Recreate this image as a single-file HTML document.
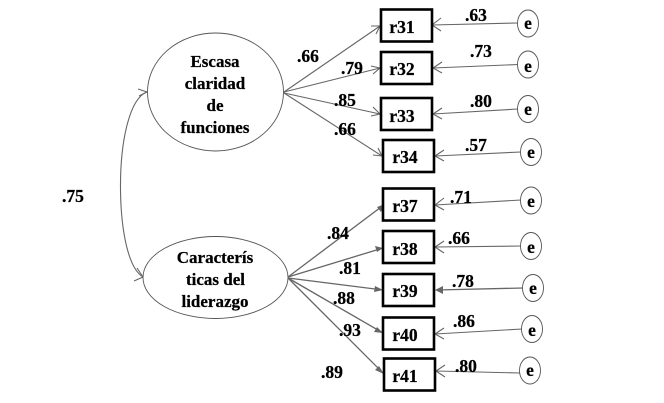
<!DOCTYPE html>
<html>
<head>
<meta charset="utf-8">
<style>
html,body{margin:0;padding:0;background:#fff;}
svg{display:block;}
text{font-family:"Liberation Serif",serif;font-weight:bold;fill:#000;stroke:#000;stroke-width:.25px;}
.t{font-size:17px;text-anchor:middle;}
.v{font-size:17.5px;}
.b{font-size:17.5px;text-anchor:middle;}
.e{font-size:17.5px;text-anchor:middle;}
.l{stroke:#666;stroke-width:1.1;fill:none;}
.d{stroke:#666;stroke-width:1.3;fill:none;}
.box{fill:#fff;stroke:#000;stroke-width:2.6;}
.c{fill:#fff;stroke:#555;stroke-width:.9;}
</style>
</head>
<body>
<svg width="664" height="403" viewBox="0 0 664 403" xmlns="http://www.w3.org/2000/svg">
<!-- correlation -->
<path class="l" d="M147 92 C130 98 120 140 120.500 190 C121 230 128 268 143 277"/>
<path class="l" d="M138 89 L147 92 L139 96"/>
<path class="l" d="M134 281 L143 277 L137 268"/>
<!-- ellipses -->
<ellipse cx="215.500" cy="92" rx="68" ry="59" class="c"/>
<ellipse cx="215.500" cy="277.500" rx="72.500" ry="41" class="c"/>
<text class="t" x="215" y="67">Escasa</text>
<text class="t" x="215" y="89">claridad</text>
<text class="t" x="215" y="111">de</text>
<text class="t" x="215" y="133">funciones</text>
<text class="t" x="215" y="263">Caracterís</text>
<text class="t" x="215.500" y="285">ticas del</text>
<text class="t" x="215" y="307">liderazgo</text>
<!-- upper paths -->
<path class="l" d="M284 92 L380 26"/><path class="l" d="M371 26 L380 26 L376 34"/>
<path class="l" d="M284 92 L380 68"/><path class="l" d="M371 66 L380 68 L373 74"/>
<path class="l" d="M284 93 L380 114"/><path class="l" d="M373 107 L380 114 L371 116"/>
<path class="l" d="M284 93 L382 156"/><path class="l" d="M378 148 L382 156 L373 155"/>
<!-- lower paths -->
<path class="d" d="M288 277 L385 204"/><path d="M385 204 L377 207 L381 212 Z" fill="#666"/>
<path class="d" d="M288 277 L383 248"/><path d="M383 248 L375 246 L377 252 Z" fill="#666"/>
<path class="d" d="M288 278 L383 290"/><path d="M383 290 L375 286 L374 292 Z" fill="#666"/>
<path class="d" d="M288 278 L383 333"/><path d="M383 333 L377 327 L374 332 Z" fill="#666"/>
<path class="d" d="M288 278 L384 374"/><path d="M384 374 L379 366 L375 370 Z" fill="#666"/>
<!-- error paths -->
<path class="l" d="M518 23 L432 25"/><path class="l" d="M441 18 L432 25 L441 31"/>
<path class="l" d="M518 64.500 L433 68"/><path class="l" d="M442 62 L433 68 L442 73"/>
<path class="l" d="M518 109 L433 114"/><path class="l" d="M442 108 L433 114 L442 119"/>
<path class="l" d="M521 152 L435 156"/><path class="l" d="M444 150 L435 156 L444 161"/>
<path class="l" d="M521 200 L435 205"/><path class="l" d="M444 198 L435 205 L444 210"/>
<path class="l" d="M521 246 L435 247"/><path class="l" d="M444 241 L435 247 L444 253"/>
<path class="d" d="M523 288 L436 290"/><path d="M435 290 L443 286 L443 294 Z" fill="#666"/>
<path class="l" d="M522 329 L435 334"/><path class="l" d="M444 328 L435 334 L444 339"/>
<path class="l" d="M520 373 L436 371"/><path class="l" d="M445 365 L436 371 L445 377"/>
<!-- boxes -->
<rect class="box" x="381" y="9.500" width="51" height="32"/>
<rect class="box" x="381" y="52" width="51" height="32"/>
<rect class="box" x="381" y="98" width="51" height="32"/>
<rect class="box" x="383" y="140" width="51" height="32"/>
<rect class="box" x="383" y="188.500" width="51" height="32"/>
<rect class="box" x="383" y="231" width="51" height="32"/>
<rect class="box" x="383" y="274" width="51" height="32"/>
<rect class="box" x="383" y="317.500" width="51" height="32"/>
<rect class="box" x="384" y="358.500" width="51" height="32"/>
<text class="b" x="402" y="33">r31</text>
<text class="b" x="402" y="75">r32</text>
<text class="b" x="402" y="122">r33</text>
<text class="b" x="405" y="163">r34</text>
<text class="b" x="405" y="212">r37</text>
<text class="b" x="405" y="255">r38</text>
<text class="b" x="405" y="297">r39</text>
<text class="b" x="405" y="341">r40</text>
<text class="b" x="405" y="382">r41</text>
<!-- error circles -->
<ellipse class="c" cx="528" cy="23.500" rx="10.500" ry="13.500"/>
<ellipse class="c" cx="528" cy="64.500" rx="10.500" ry="13.500"/>
<ellipse class="c" cx="528" cy="109" rx="10.500" ry="13.500"/>
<ellipse class="c" cx="531" cy="152" rx="10.500" ry="13.500"/>
<ellipse class="c" cx="531" cy="200.500" rx="10.500" ry="13.500"/>
<ellipse class="c" cx="531" cy="246" rx="10.500" ry="13.500"/>
<ellipse class="c" cx="533" cy="288" rx="10.500" ry="13.500"/>
<ellipse class="c" cx="532" cy="329" rx="10.500" ry="13.500"/>
<ellipse class="c" cx="530" cy="370.500" rx="10.500" ry="13.500"/>
<text class="e" x="528" y="29">e</text>
<text class="e" x="528" y="72">e</text>
<text class="e" x="528" y="115">e</text>
<text class="e" x="531" y="158">e</text>
<text class="e" x="531" y="207">e</text>
<text class="e" x="531" y="253">e</text>
<text class="e" x="533" y="294">e</text>
<text class="e" x="532" y="336">e</text>
<text class="e" x="530" y="376">e</text>
<!-- values -->
<text class="v" x="62" y="202">.75</text>
<text class="v" x="297" y="62">.66</text>
<text class="v" x="341" y="74">.79</text>
<text class="v" x="334" y="106">.85</text>
<text class="v" x="334" y="135">.66</text>
<text class="v" x="465" y="21">.63</text>
<text class="v" x="470" y="57">.73</text>
<text class="v" x="470" y="107">.80</text>
<text class="v" x="465" y="151">.57</text>
<text class="v" x="450" y="203">.71</text>
<text class="v" x="448" y="244">.66</text>
<text class="v" x="452" y="287">.78</text>
<text class="v" x="453" y="327">.86</text>
<text class="v" x="455" y="372">.80</text>
<text class="v" x="327" y="239">.84</text>
<text class="v" x="339" y="274">.81</text>
<text class="v" x="333" y="304">.88</text>
<text class="v" x="339" y="336">.93</text>
<text class="v" x="321" y="378">.89</text>
</svg>
</body>
</html>
